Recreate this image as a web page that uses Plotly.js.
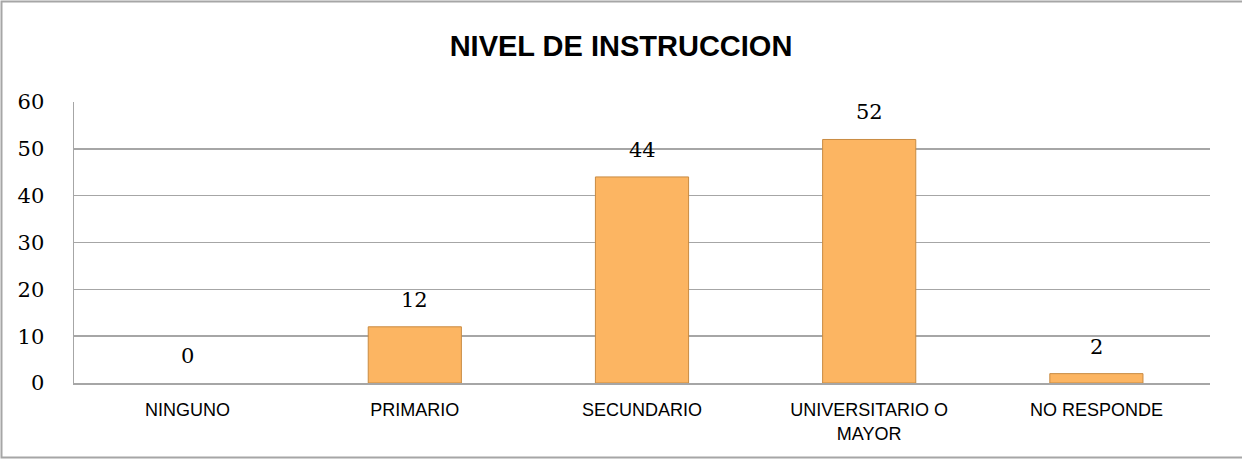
<!DOCTYPE html>
<html>
<head>
<meta charset="utf-8">
<script src="https://cdn.plot.ly/plotly-3.0.1.min.js"></script>
<style>
html,body{margin:0;padding:0;background:#fff;}
#chart{width:1242px;height:459px;}
</style>
</head>
<body>
<div id="chart"></div>
<script>
var categories = ["NINGUNO", "PRIMARIO", "SECUNDARIO", "UNIVERSITARIO O<br>MAYOR", "NO RESPONDE"];
var values = [0, 12, 44, 52, 2];
var yTicks = [0, 10, 20, 30, 40, 50, 60];
var chartTitle = "NIVEL DE INSTRUCCION";

var W = 1242, H = 459;
var mL = 74, mR = 32, mT = 102, mB = 76;
var pw = W - mL - mR, ph = H - mT - mB;
function px2x(p){ return (p - mL) / pw; }
function py2y(p){ return (H - mB - p) / ph; }

var trace = {
  type: 'bar',
  x: categories,
  y: values,
  width: 0.41,
  marker: {
    color: '#FCB562',
    line: {color: '#C98B42', width: values.map(function(v){ return v > 0 ? 1 : 0; })}
  },
  hoverinfo: 'none'
};

var annotations = categories.map(function(c, i){
  return {
    x: c, y: values[i], xref: 'x', yref: 'y',
    text: String(values[i]), showarrow: false,
    yanchor: 'middle', yshift: 27,
    font: {family: 'DejaVu Serif', size: 21, color: '#000'}
  };
});

var layout = {
  width: W, height: H,
  margin: {l: mL, r: mR, t: mT, b: mB, pad: 0},
  paper_bgcolor: '#fff', plot_bgcolor: '#fff',
  showlegend: false,
  title: {
    text: '<b>' + chartTitle + '</b>',
    x: 0.5, xanchor: 'center', xref: 'container',
    y: 1 - 46 / H, yanchor: 'middle', yref: 'container',
    font: {family: 'Liberation Sans, Arial', size: 29, color: '#000'}
  },
  xaxis: {
    type: 'category',
    showgrid: false, zeroline: false,
    showline: true, linecolor: '#A6A6A6', linewidth: 1.5,
    ticks: '', ticklabelstandoff: 10,
    tickfont: {family: 'Liberation Sans, Arial', size: 18, color: '#000'},
    fixedrange: true
  },
  yaxis: {
    range: [0, 60],
    tickvals: yTicks,
    ticktext: yTicks.map(String),
    showgrid: true, gridcolor: '#A6A6A6', gridwidth: 1.5,
    zeroline: false,
    showline: true, linecolor: '#A6A6A6', linewidth: 1.5,
    ticks: '', ticklabelstandoff: 24,
    tickfont: {family: 'DejaVu Serif', size: 21, color: '#000'},
    fixedrange: true
  },
  annotations: annotations,
  shapes: [{
    type: 'rect', xref: 'paper', yref: 'paper',
    x0: px2x(1.5), x1: px2x(1250), y0: py2y(457.5), y1: py2y(1.5),
    line: {color: '#A6A6A6', width: 2}, fillcolor: 'rgba(0,0,0,0)', layer: 'below'
  }]
};

Plotly.newPlot('chart', [trace], layout, {staticPlot: true, displayModeBar: false});
</script>
</body>
</html>
